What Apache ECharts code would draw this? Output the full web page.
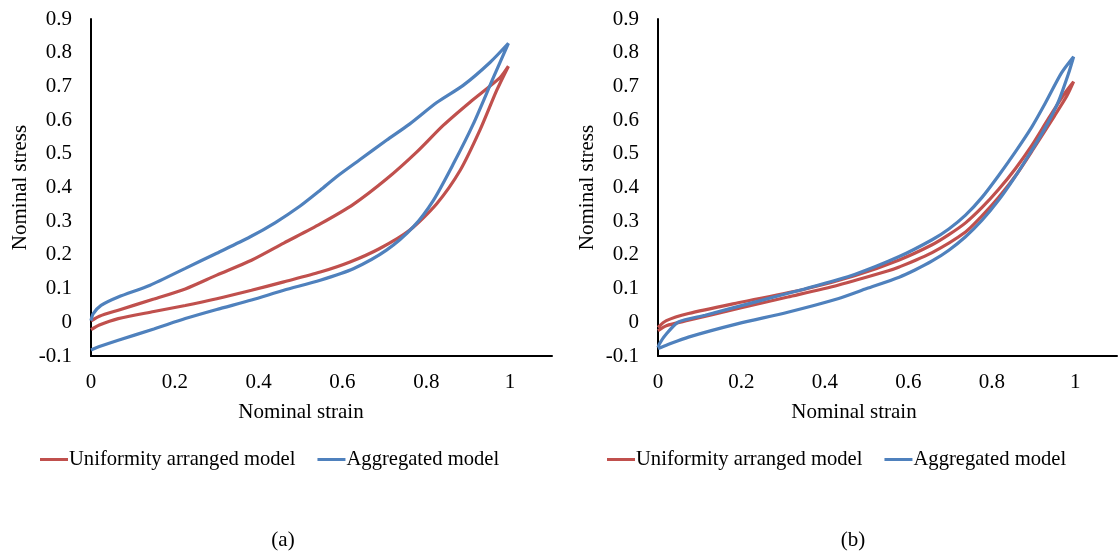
<!DOCTYPE html>
<html>
<head>
<meta charset="utf-8">
<script src="https://cdn.jsdelivr.net/npm/echarts@6/dist/echarts.min.js"></script>
<style>
  html, body { margin: 0; padding: 0; background: #fff; }
  #chart { width: 1120px; height: 554px; }
</style>
</head>
<body>
<div id="chart"></div>
<script>
// series names
const seriesNames = ['Uniformity arranged model', 'Aggregated model'];
const yTicks = [-0.1, 0.9, 0.1];   // min, max, step
const xTicks = [0, 1.1, 0.2];

// (a) uniformity arranged: loading branch then unloading branch, [strain, stress]
const uniformA = [
  [0, -0.022], [0.02, -0.008], [0.065, 0.011], [0.15, 0.032], [0.225, 0.05], [0.30, 0.07],
  [0.383, 0.095], [0.46, 0.12], [0.547, 0.149], [0.618, 0.179], [0.689, 0.219], [0.76, 0.273],
  [0.825, 0.352], [0.881, 0.451], [0.928, 0.57], [0.968, 0.688], [0.996, 0.76],
  [0.976, 0.726], [0.905, 0.654], [0.841, 0.585], [0.777, 0.505], [0.705, 0.425], [0.626, 0.35],
  [0.547, 0.292], [0.46, 0.235], [0.383, 0.184], [0.30, 0.14], [0.225, 0.099], [0.15, 0.069],
  [0.065, 0.036], [0.02, 0.018], [0, 0.004]
];
// (a) aggregated
const aggregatedA = [
  [0, -0.082], [0.02, -0.072], [0.065, -0.053], [0.15, -0.02], [0.225, 0.011], [0.30, 0.038],
  [0.383, 0.066], [0.46, 0.095], [0.547, 0.125], [0.626, 0.159], [0.705, 0.214], [0.769, 0.283],
  [0.817, 0.362], [0.865, 0.471], [0.912, 0.588], [0.96, 0.726], [0.996, 0.828],
  [0.952, 0.771], [0.888, 0.703], [0.825, 0.652], [0.76, 0.588], [0.705, 0.54], [0.642, 0.483],
  [0.586, 0.432], [0.547, 0.392], [0.499, 0.345], [0.44, 0.296], [0.379, 0.253], [0.30, 0.205],
  [0.225, 0.16], [0.141, 0.11], [0.065, 0.075], [0.024, 0.05], [0.005, 0.025], [0, 0.005]
];
// (b) uniformity arranged
const uniformB = [
  [0, -0.025], [0.02, -0.01], [0.073, 0.006], [0.192, 0.041], [0.311, 0.075], [0.431, 0.11],
  [0.55, 0.152], [0.578, 0.164], [0.657, 0.207], [0.737, 0.268], [0.776, 0.315], [0.816, 0.37],
  [0.86, 0.44], [0.90, 0.515], [0.95, 0.612], [0.98, 0.672], [0.996, 0.714],
  [0.975, 0.68], [0.936, 0.605], [0.896, 0.525], [0.856, 0.455], [0.816, 0.394], [0.776, 0.34],
  [0.737, 0.295], [0.697, 0.26], [0.657, 0.23], [0.578, 0.185], [0.471, 0.138], [0.351, 0.098],
  [0.192, 0.058], [0.073, 0.026], [0.02, 0.005], [0, -0.015]
];
// (b) aggregated
const aggregatedB = [
  [0, -0.078], [0.02, -0.068], [0.073, -0.044], [0.192, -0.004], [0.311, 0.03], [0.431, 0.07],
  [0.50, 0.1], [0.578, 0.134], [0.617, 0.156], [0.657, 0.182], [0.697, 0.214], [0.737, 0.254],
  [0.776, 0.302], [0.816, 0.362], [0.852, 0.425], [0.888, 0.495], [0.928, 0.577], [0.959, 0.653],
  [0.983, 0.735], [0.996, 0.788],
  [0.967, 0.74], [0.928, 0.65], [0.896, 0.58], [0.856, 0.505], [0.816, 0.435], [0.776, 0.37],
  [0.737, 0.318], [0.697, 0.277], [0.657, 0.245], [0.578, 0.195], [0.471, 0.142], [0.351, 0.099],
  [0.232, 0.06], [0.113, 0.021], [0.049, 0.001], [0.017, -0.039], [0.003, -0.065], [0, -0.075]
];

const RED = '#C0504D';
const BLUE = '#4F81BD';
const FONT = 'Liberation Serif';
const SIZE = 21;

const chart = echarts.init(document.getElementById('chart'));

const axisLine = { show: true, onZero: false, lineStyle: { color: '#000', width: 2 } };

function xAxis(idx) {
  return {
    type: 'value', gridIndex: idx,
    min: xTicks[0], max: xTicks[1], interval: xTicks[2],
    axisLine: axisLine, axisTick: { show: false }, splitLine: { show: false },
    axisLabel: {
      color: '#000', fontFamily: FONT, fontSize: SIZE, margin: 16,
      formatter: v => (v > 1.05 ? '' : String(+v.toFixed(1)))
    }
  };
}
function yAxis(idx) {
  return {
    type: 'value', gridIndex: idx,
    min: yTicks[0], max: yTicks[1], interval: yTicks[2],
    axisLine: axisLine, axisTick: { show: false }, splitLine: { show: false },
    name: 'Nominal stress', nameLocation: 'middle', nameGap: 60,
    nameTextStyle: { color: '#000', fontFamily: FONT, fontSize: SIZE },
    axisLabel: {
      color: '#000', fontFamily: FONT, fontSize: SIZE, margin: 19,
      formatter: v => String(+v.toFixed(1))
    }
  };
}
function line(name, data, color, idx) {
  return {
    name: name, type: 'line', xAxisIndex: idx, yAxisIndex: idx,
    data: data, showSymbol: false, symbol: 'none', smooth: 0.25,
    color: color, lineStyle: { color: color, width: 3.2 }
  };
}
function legend(left) {
  return {
    left: left, top: 449, padding: 0, itemWidth: 28, itemHeight: 3, itemGap: 22,
    icon: 'rect', data: seriesNames,
    textStyle: { color: '#000', fontFamily: FONT, fontSize: 20.6, padding: [0, 0, 0, -4] }
  };
}
function label(text, x, y) {
  return {
    type: 'text', x: x, y: y,
    style: { text: text, fill: '#000', font: SIZE + 'px "' + FONT + '"', align: 'center', verticalAlign: 'middle' }
  };
}

chart.setOption({
  animation: false,
  grid: [
    { left: 91, top: 19, width: 461, height: 337 },
    { left: 658, top: 19, width: 461, height: 337 }
  ],
  xAxis: [xAxis(0), xAxis(1)],
  yAxis: [yAxis(0), yAxis(1)],
  legend: [legend(40), legend(607)],
  graphic: [
    label('Nominal strain', 301, 412),
    label('Nominal strain', 854, 412),
    label('(a)', 283, 540),
    label('(b)', 853, 540)
  ],
  series: [
    line(seriesNames[0], uniformA, RED, 0),
    line(seriesNames[1], aggregatedA, BLUE, 0),
    line(seriesNames[0], uniformB, RED, 1),
    line(seriesNames[1], aggregatedB, BLUE, 1)
  ]
});
</script>
</body>
</html>
